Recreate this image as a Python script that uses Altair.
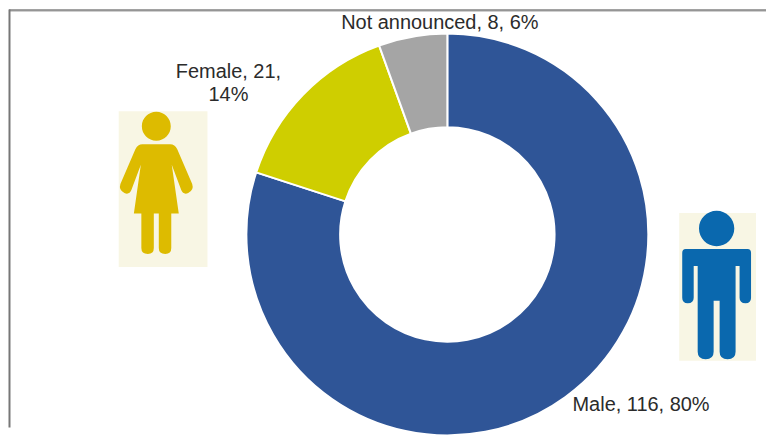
import altair as alt
import pandas as pd

categories = ["Male", "Female", "Not announced"]
counts = [116, 21, 8]
percents = [80, 14, 6]
colors = ["#2F5597", "#CFCE00", "#A5A5A5"]

CX, CY = 439.5, 225.5
W, H = 759, 419
FONT = "Liberation Sans"
FS = 20
TXT = "#2b2b2b"

df = pd.DataFrame({"category": categories, "count": counts,
                   "seq": list(range(len(categories)))})

donut = alt.Chart(df).mark_arc(
    outerRadius=201.5, innerRadius=107.5, stroke="white", strokeWidth=2
).encode(
    theta=alt.Theta("count:Q", stack=True),
    order=alt.Order("seq:Q"),
    color=alt.Color("category:N", legend=None,
                    scale=alt.Scale(domain=categories, range=colors)),
    x=alt.value(CX), y=alt.value(CY),
)

base = alt.Chart(pd.DataFrame({"a": [0]}))


def rect(x0, x1, y0, y1, fill):
    return base.mark_rect(fill=fill, opacity=1).encode(
        x=alt.value(x0), x2=alt.value(x1), y=alt.value(y0), y2=alt.value(y1))


def rule_h(y, x0, x1, c, sw):
    return base.mark_rule(color=c, strokeWidth=sw).encode(
        x=alt.value(x0), x2=alt.value(x1), y=alt.value(y))


def rule_v(x, y0, y1, c, sw):
    return base.mark_rule(color=c, strokeWidth=sw).encode(
        x=alt.value(x), y=alt.value(y0), y2=alt.value(y1))


def glyph(path, x, y, fill):
    # size=4 renders the custom path at 1 unit = 1 pixel
    return base.mark_point(shape=path, size=4, filled=True, fill=fill,
                           opacity=1, strokeWidth=0).encode(
        x=alt.value(x), y=alt.value(y))


def circ(cx, cy, r):
    return (f"M{cx - r},{cy}A{r},{r} 0 1,1 {cx + r},{cy}"
            f"A{r},{r} 0 1,1 {cx - r},{cy}Z")


# Male pictogram, local coordinates around its anchor
male_path = circ(0, -65.5, 17.7) + (
    "M-31,-45Q-34.5,-45 -34.5,-41L-34.5,4Q-34.5,9.5 -29,9.5"
    "Q-23,9.5 -23,4L-23,-28L-19,-28L-19,58Q-19,65.5 -11,65.5"
    "Q-3,65.5 -3,58L-3,7L3,7L3,58Q3,65.5 11,65.5Q19,65.5 19,58"
    "L19,-28L23,-28L23,4Q23,9.5 29,9.5Q34.5,9.5 34.5,4"
    "L34.5,-41Q34.5,-45 31,-45Z"
)

# Female pictogram, local coordinates around its anchor
female_path = circ(0, -63, 14.5) + (
    "M-14,-45Q-18.5,-45 -21,-40L-36,-5Q-38,1 -32,4Q-27,6 -25,1"
    "L-15.5,-24.5L-22.5,24.5L-15,24.5L-15,59Q-15,65 -8.5,65"
    "Q-2.5,65 -2.5,59L-2.5,24.5L2.5,24.5L2.5,59Q2.5,65 9,65"
    "Q15,65 15,59L15,24.5L22.5,24.5L15.5,-24.5L25,1Q27,6 32,4"
    "Q38,1 36,-5L21,-40Q18.5,-45 14,-45Z"
)


def label(text, x, y, align):
    d = pd.DataFrame({"t": [text]})
    return alt.Chart(d).mark_text(
        font=FONT, fontSize=FS, color=TXT, align=align, baseline="alphabetic",
        lineBreak="|", lineHeight=23,
    ).encode(text="t:N", x=alt.value(x), y=alt.value(y))


labels = [
    f"{categories[0]}, {counts[0]}, {percents[0]}%",
    f"{categories[1]}, {counts[1]},|{percents[1]}%",
    f"{categories[2]}, {counts[2]}, {percents[2]}%",
]

chart = alt.layer(
    rule_h(0.5, 0, W, "#2a2a2a", 1),
    rule_h(1.5, 0, W, "#a8a8a8", 1),
    rule_v(0.5, 0, H, "#777777", 2),
    donut,
    rect(110, 199, 102, 258, "#F8F6E4"),
    rect(672, 749, 204, 352, "#F8F6E4"),
    glyph(female_path, 147.7, 180, "#DDBB00"),
    glyph(male_path, 709.5, 285, "#0A68AE"),
    label(labels[0], 565, 402, "left"),
    label(labels[1], 220, 69, "center"),
    label(labels[2], 432, 19, "center"),
).properties(
    width=W, height=H, padding=0, background="white"
).configure_view(stroke=None)

chart.save("out.html", embed_options={"renderer": "svg", "actions": False})
